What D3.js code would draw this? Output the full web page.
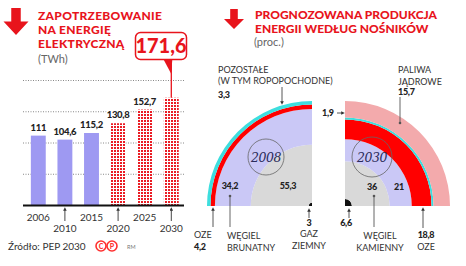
<!DOCTYPE html>
<html><head><meta charset="utf-8">
<script src="https://cdn.jsdelivr.net/npm/d3@7"></script>
<style>
body{margin:0;background:#fff;}
svg{display:block;font-family:Lato, "Open Sans", sans-serif;}
</style></head>
<body><svg id="c" width="466" height="266"></svg>
<script>
// ---- data ----
const years = ["2006","2010","2015","2020","2025","2030"];
const demand = [111, 104.6, 115.2, 130.8, 152.7, 171.6];
const demandLabels = ["111","104,6","115,2","130,8","152,7","171,6"];
const forecast = [false,false,false,true,true,true];
const gridValues = [50,100,150,200];

const carriers2008 = ["gaz","kamienny","brunatny","oze","pozostale"];
const shares2008 = [3, 55.3, 34.2, 4.2, 3.3];
const carriers2030 = ["gaz","kamienny","brunatny","oze","pozostale","jadrowe"];
const shares2030 = [6.6, 36, 21, 18.8, 1.9, 15.7];
const carrierColors = {gaz:"#111111",kamienny:"#d9d9d9",brunatny:"#cac8f6",oze:"#ff0000",pozostale:"#3ddede",jadrowe:"#f3aaac"};

const svg = d3.select("#c");
const defs = svg.append("defs");
const pat = defs.append("pattern").attr("id","dots").attr("patternUnits","userSpaceOnUse")
  .attr("width",3).attr("height",3);
pat.append("rect").attr("width",3).attr("height",3).attr("fill","#fff");
pat.append("rect").attr("width",2).attr("height",2).attr("fill","#ea1c24");
defs.append("marker").attr("id","ah").attr("viewBox","0 0 6 6").attr("refX",3).attr("refY",3)
  .attr("markerWidth",4).attr("markerHeight",4).attr("orient","auto-start-reverse")
  .append("path").attr("d","M0,0L6,3L0,6Z").attr("fill","#333");

const RED = "#e8141c";
// title arrows
function bigArrow(cx, top, h, w){
  const sw = w*0.38, hh = h*0.5;
  svg.append("path").attr("fill",RED).attr("d",
    `M${cx-sw/2},${top}L${cx+sw/2},${top}L${cx+sw/2},${top+h-hh}L${cx+w/2},${top+h-hh}L${cx},${top+h}L${cx-w/2},${top+h-hh}L${cx-sw/2},${top+h-hh}Z`);
}
bigArrow(16, 8, 27, 25);
bigArrow(234, 9, 20, 20);

function lines(x, ys, arr, opts){
  arr.forEach((t,i)=>{
    const e = svg.append("text").attr("x",x).attr("y",ys[i]).text(t);
    for (const k in opts) e.attr(k, opts[k]);
  });
}
lines(38,[20,34,48],["ZAPOTRZEBOWANIE","NA ENERGIĘ","ELEKTRYCZNĄ"],{"font-size":12,"font-weight":900,fill:RED,"letter-spacing":0.3});
svg.append("text").attr("x",38).attr("y",63).attr("font-size",11).attr("fill","#666").text("(TWh)");
lines(255,[19,33],["PROGNOZOWANA PRODUKCJA","ENERGII WEDŁUG NOŚNIKÓW"],{"font-size":12,"font-weight":900,fill:RED});
svg.append("text").attr("x",254).attr("y",46).attr("font-size",11).attr("fill","#666").text("(proc.)");

// ---- bar chart ----
const x = d3.scaleBand().domain(years).range([25,184.6]).paddingInner(0.44).paddingOuter(0.22);
const y = d3.scaleLinear().domain([0,200]).range([205,80]);

svg.append("g").selectAll("line").data(gridValues).join("line")
  .attr("x1",23).attr("x2",184).attr("y1",d=>y(d)+0.5).attr("y2",d=>y(d)+0.5)
  .attr("stroke","#888").attr("stroke-width",1).attr("stroke-dasharray","1,1.5");

svg.append("g").selectAll("rect").data(years).join("rect")
  .attr("x",d=>x(d)).attr("width",x.bandwidth())
  .attr("y",(d,i)=>y(demand[i])).attr("height",(d,i)=>y(0)-y(demand[i]))
  .attr("fill",(d,i)=>forecast[i]?"url(#dots)":"#9e99f2");

svg.append("line").attr("x1",23).attr("x2",184).attr("y1",y(0)+0.5).attr("y2",y(0)+0.5)
  .attr("stroke","#111").attr("stroke-width",2);

// value labels (except last which is in callout)
svg.append("g").selectAll("text").data(years.slice(0,5)).join("text")
  .attr("x",d=>x(d)+x.bandwidth()/2).attr("y",(d,i)=>y(demand[i])-5)
  .attr("text-anchor","middle").attr("font-size",9.5).attr("font-weight",900).attr("fill","#222")
  .attr("stroke","#fff").attr("stroke-width",3).attr("paint-order","stroke")
  .attr("letter-spacing",-0.3)
  .text((d,i)=>demandLabels[i]);

// year labels
svg.append("g").selectAll("text").data(years).join("text")
  .attr("x",d=>x(d)+x.bandwidth()/2).attr("y",(d,i)=>i%2?232:221)
  .attr("text-anchor","middle").attr("font-size",10).attr("fill","#333").text(d=>d);
svg.append("g").selectAll("line").data(years.filter((d,i)=>i%2)).join("line")
  .attr("x1",d=>x(d)+x.bandwidth()/2).attr("x2",d=>x(d)+x.bandwidth()/2)
  .attr("y1",221).attr("y2",209).attr("stroke","#333").attr("stroke-width",0.9)
  .attr("marker-end","url(#ah)");

// callout for last value
const lastYear = years[years.length-1];
const cx = x(lastYear)+x.bandwidth()/2;
svg.append("line").attr("x1",cx).attr("x2",cx).attr("y1",62).attr("y2",y(demand[5]))
  .attr("stroke",RED).attr("stroke-width",1.3);
svg.append("path").attr("d",`M${cx-8},59L${cx+1},59L${cx},74Z`).attr("fill",RED);
svg.append("rect").attr("x",135.5).attr("y",32.5).attr("width",51).attr("height",27).attr("rx",5)
  .attr("fill","#fff").attr("stroke",RED).attr("stroke-width",1.5);
svg.append("text").attr("x",161).attr("y",53).attr("text-anchor","middle")
  .attr("font-size",20).attr("font-weight",900).attr("fill",RED).text(demandLabels[5]);

// source
svg.append("text").attr("x",8).attr("y",250).attr("font-size",10).attr("fill","#333").text("Źródło: PEP 2030");
[[101,"C"],[112,"P"]].forEach(([px,t])=>{
  svg.append("circle").attr("cx",px).attr("cy",246).attr("r",5).attr("fill","none").attr("stroke","#ff3030").attr("stroke-width",1.6);
  svg.append("text").attr("x",px).attr("y",249).attr("text-anchor","middle").attr("font-size",7).attr("font-weight",900).attr("fill","#ff3030").text(t);
});
svg.append("text").attr("x",127).attr("y",249).attr("font-size",5.5).attr("fill","#777").text("RM");

// ---- quarter pies ----
const r = d3.scaleLinear().domain([0,100]).range([0,105]);
function quarter(cxp, cyp, keys, vals, a0, a1){
  const cum = d3.cumsum(vals);
  const arc = d3.arc();
  const g = svg.append("g").attr("transform",`translate(${cxp},${cyp})`);
  g.selectAll("path").data(keys).join("path")
    .attr("d",(k,i)=>arc({innerRadius:r(i?cum[i-1]:0),outerRadius:r(cum[i]),startAngle:a0,endAngle:a1}))
    .attr("fill",k=>carrierColors[k]);
  return g;
}
quarter(312, 206, carriers2008, shares2008, -Math.PI/2, 0);
quarter(345, 206, carriers2030, shares2030, 0, Math.PI/2);

// year circles
[[266,157,18,"2008"],[372,157,20,"2030"]].forEach(([a,b,rr,t])=>{
  svg.append("circle").attr("cx",a).attr("cy",b).attr("r",rr).attr("fill","none").attr("stroke","#666").attr("stroke-width",0.8);
  svg.append("text").attr("x",a).attr("y",b+4.5).attr("text-anchor","middle")
    .attr("font-family","'DejaVu Serif', 'Liberation Serif', serif").attr("font-style","italic")
    .attr("font-size",12.5).attr("fill","#2c2c5a").attr("letter-spacing",-0.5).text(t);
});

const fmt = v => String(v).replace(".",",");
function num(xp, yp, v, anchor){
  svg.append("text").attr("x",xp).attr("y",yp).attr("text-anchor",anchor||"middle")
    .attr("font-size",9).attr("font-weight",900).attr("fill","#222").attr("letter-spacing",-0.3).text(fmt(v));
}
function lab(xp, ys, arr, anchor){
  arr.forEach((t,i)=>svg.append("text").attr("x",xp).attr("y",ys[i]).attr("text-anchor",anchor||"middle")
    .attr("font-size",9).attr("fill","#333").text(t));
}
function arrow(x1,y1,x2,y2){
  svg.append("line").attr("x1",x1).attr("y1",y1).attr("x2",x2).attr("y2",y2)
    .attr("stroke","#444").attr("stroke-width",0.9).attr("marker-end","url(#ah)");
}
function stick(xp,y1,y2){
  svg.append("line").attr("x1",xp).attr("x2",xp).attr("y1",y1).attr("y2",y2).attr("stroke","#555").attr("stroke-width",0.9);
  svg.append("circle").attr("cx",xp).attr("cy",y1).attr("r",1.3).attr("fill","#555");
}

// 2008 labels
num(230,189,shares2008[2]); stick(230,196,227);
lab(227,[239,251],["WĘGIEL","BRUNATNY"],"start");
num(288,189,shares2008[1]);
lab(194,[238,],["OZE"],"start"); num(194,250,shares2008[3],"start");
arrow(213,227,213,209);
num(309,226,shares2008[0]); arrow(309,218,309,210);
lab(309,[237,249],["GAZ","ZIEMNY"]);
lab(218,[73,84],["POZOSTAŁE","(W TYM ROPOPOCHODNE)"],"start");
num(218,98,shares2008[4],"start");
arrow(282,87,282,103);

// 2030 labels
num(372,190,shares2030[1]); stick(374,196,227);
lab(380,[239,251],["WĘGIEL","KAMIENNY"]);
num(399,190,shares2030[2]);
num(346,226,shares2030[0]); arrow(349,218,349,210);
num(426,238,shares2030[3]); lab(426,[250],["OZE"]);
arrow(423,228,423,209);
num(322,116,shares2030[4],"start"); arrow(337,113,343,113);
lab(398,[73,85],["PALIWA","JĄDROWE"],"start");
num(398,95,shares2030[5],"start");
stick(400,123,97);
</script></body></html>
